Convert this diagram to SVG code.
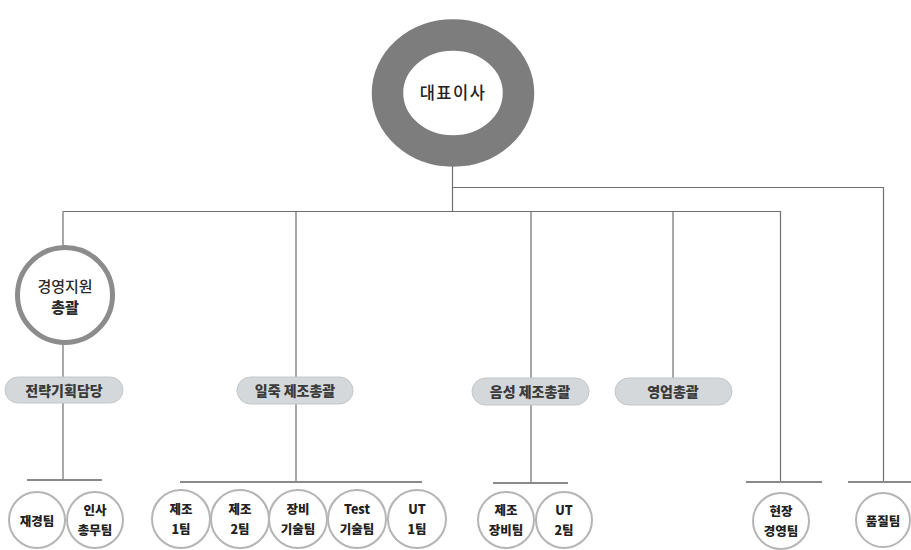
<svg xmlns="http://www.w3.org/2000/svg" width="911" height="550" viewBox="0 0 911 550">
<style>
text{font-family:"Noto Sans CJK KR","Noto Sans",sans-serif;fill:#2b2b2b;text-anchor:middle;dominant-baseline:central}
.ln{stroke:#6e6e6e;stroke-width:1.2;fill:none}
.bar{stroke:#8a8a8a;stroke-width:1.8;fill:none}
.pill{fill:#d5d8db;stroke:#c4c6c8;stroke-width:1}
.pt{font-size:14px;font-weight:900;fill:#3a3a3a}
.team{fill:#fff;stroke:#b5b5b5;stroke-width:2}
.tt{font-size:12.5px;font-weight:900;fill:#222}
</style>
<rect width="911" height="550" fill="#fff"/>
<g id="connectors">
<path class="ln" d="M452.5 166 V212 M452.5 187.5 H883.5 V482 M63 211.5 H780.5 V482 M63 211.5 V246 M63 344 V480 M296 211.5 V482 M531 211.5 V483 M673 211.5 V378"/>
<path class="bar" d="M27 480 H102 M180 482 H422 M493 483 H568 M746 482 H822 M848 482 H911"/>
</g>
<g id="ceo">
<ellipse cx="453" cy="93" rx="65.5" ry="58" fill="#fff" stroke="#7d7d7d" stroke-width="31.5"/>
<text x="453" y="92" style="font-size:16.5px;font-weight:500;letter-spacing:1.5px;fill:#222">대표이사</text>
</g>
<g id="mgmt">
<circle cx="65" cy="295" r="47.5" fill="#fff" stroke="#8c8c8c" stroke-width="5"/>
<text x="65" y="285" style="font-size:15px;font-weight:500">경영지원</text>
<text x="65" y="306" style="font-size:15px;font-weight:900">총괄</text>
</g>
<g id="strategy">
<rect class="pill" x="5" y="377" width="118" height="26" rx="13"/>
<text class="pt" x="64" y="390">전략기획담당</text>
</g>
<g id="iljuk">
<rect class="pill" x="237" y="377" width="116" height="27" rx="13.5"/>
<text class="pt" x="295" y="390">일죽 제조총괄</text>
</g>
<g id="eumseong">
<rect class="pill" x="472" y="378" width="117" height="27" rx="13.5"/>
<text class="pt" x="530" y="391">음성 제조총괄</text>
</g>
<g id="sales">
<rect class="pill" x="615" y="378" width="117" height="27" rx="13.5"/>
<text class="pt" x="673" y="391">영업총괄</text>
</g>
<g id="finance">
<circle class="team" cx="37" cy="520" r="28"/>
<text class="tt" x="37" y="520">재경팀</text>
</g>
<g id="hr">
<circle class="team" cx="95" cy="520" r="28"/>
<text class="tt" x="95" y="509">인사</text>
<text class="tt" x="95" y="529">총무팀</text>
</g>
<g id="mfg1">
<circle class="team" cx="181" cy="519" r="29"/>
<text class="tt" x="181" y="508">제조</text>
<text class="tt" x="181" y="528">1팀</text>
</g>
<g id="mfg2">
<circle class="team" cx="240" cy="519" r="29"/>
<text class="tt" x="240" y="508">제조</text>
<text class="tt" x="240" y="528">2팀</text>
</g>
<g id="equip">
<circle class="team" cx="298" cy="519" r="29"/>
<text class="tt" x="298" y="508">장비</text>
<text class="tt" x="298" y="528">기술팀</text>
</g>
<g id="test">
<circle class="team" cx="357" cy="519" r="29"/>
<text class="tt" x="357" y="508">Test</text>
<text class="tt" x="357" y="528">기술팀</text>
</g>
<g id="ut1">
<circle class="team" cx="417" cy="519" r="29"/>
<text class="tt" x="417" y="508">UT</text>
<text class="tt" x="417" y="528">1팀</text>
</g>
<g id="mfgequip">
<circle class="team" cx="506" cy="520" r="28"/>
<text class="tt" x="506" y="509">제조</text>
<text class="tt" x="506" y="529">장비팀</text>
</g>
<g id="ut2">
<circle class="team" cx="564" cy="520" r="28"/>
<text class="tt" x="564" y="509">UT</text>
<text class="tt" x="564" y="529">2팀</text>
</g>
<g id="field">
<circle class="team" cx="781" cy="521" r="28"/>
<text class="tt" x="781" y="510">현장</text>
<text class="tt" x="781" y="530">경영팀</text>
</g>
<g id="quality">
<circle class="team" cx="883" cy="520" r="27"/>
<text class="tt" x="883" y="520">품질팀</text>
</g>
</svg>
